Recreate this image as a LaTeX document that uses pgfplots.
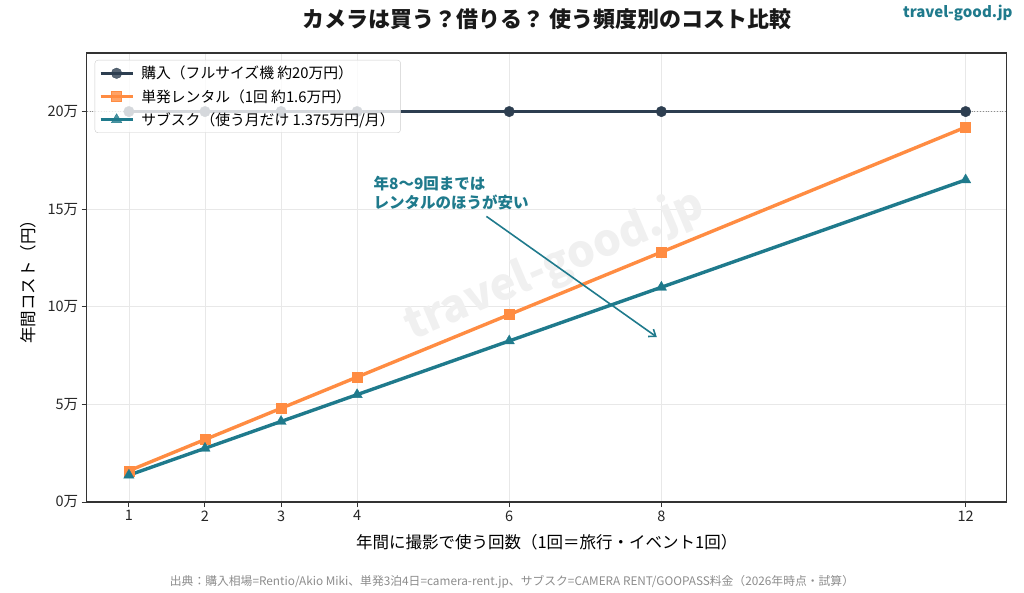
\documentclass[border=0pt]{standalone}
\usepackage{fontspec}
\setmainfont{Noto Sans CJK JP}
\usepackage{pgfplots}
\pgfplotsset{compat=1.18}
\usetikzlibrary{arrows.meta}
\definecolor{navy}{HTML}{2D3E50}
\definecolor{orng}{HTML}{FF8C42}
\definecolor{teal2}{HTML}{1F7A8C}
\definecolor{frame}{HTML}{333333}
\begin{document}
\begin{tikzpicture}
\path[use as bounding box] (0pt,0pt) rectangle (1024pt,592pt);
\begin{axis}[
  at={(86.7pt,90pt)}, anchor=south west,
  scale only axis, width=920pt, height=449pt,
  xmin=0.445, xmax=12.54, ymin=0, ymax=230000,
  xtick={1,2,3,4,6,8,12},
  ytick={0,50000,100000,150000,200000},
  yticklabels={0万,5万,10万,15万,20万},
  /pgf/number format/assume math mode=true,
  scaled y ticks=false,
  tick align=outside, major tick length=5pt,
  xtick pos=bottom, ytick pos=left,
  tick style={color=frame, line width=1pt},
  ticklabel style={font=\fontsize{14.5}{16}\selectfont, color=black!85},
  axis line style={color=frame, line width=1.4pt},
  grid=major, major grid style={color=black!9, line width=0.8pt},
  xlabel={年間に撮影で使う回数（1回＝旅行・イベント1回）},
  ylabel={年間コスト（円）},
  xlabel style={at={(axis description cs:0.5,-0.0891)}, anchor=center, font=\fontsize{16.5}{18}\selectfont},
  ylabel style={at={(axis description cs:-0.0638,0.5)}, anchor=center, font=\fontsize{16.5}{18}\selectfont},
  title={カメラは買う？借りる？ 使う頻度別のコスト比較},
  title style={at={(axis description cs:0.5,1)}, anchor=center, yshift=28pt, font=\fontsize{22}{24}\bfseries, color=black!90},
  legend style={at={(0,1)}, anchor=north west, xshift=8pt, yshift=-7pt,
    draw=black!20, fill=white, fill opacity=0.8, text opacity=1, draw opacity=1,
    rounded corners=3pt, font=\fontsize{14.8}{16}\selectfont, row sep=5pt, column sep=5pt,
    inner sep=4pt, cells={anchor=west}},
  legend image code/.code={\draw[mark repeat=2,mark phase=2] plot coordinates {(0pt,0pt) (16pt,0pt) (32pt,0pt)};},
]
\node[rotate=23, font=\fontsize{44}{46}\bfseries, text=black!6] at (axis cs:6.6,121000) {travel-good.jp};
\addplot[forget plot, color=black!45, dotted, line width=0.8pt] coordinates {(0.445,200000) (12.54,200000)};
\addplot[color=navy, line width=3.4pt, mark=*, mark size=5.3pt, mark options={line width=0.3pt}] coordinates {
(1,200000) (2,200000) (3,200000) (4,200000) (6,200000) (8,200000) (12,200000)};
\addlegendentry{購入（フルサイズ機 約20万円）}
\addplot[color=orng, line width=3.4pt, mark=square*, mark size=5pt, mark options={line width=0.3pt}] coordinates {
(1,16000) (2,32000) (3,48000) (4,64000) (6,96000) (8,128000) (12,192000)};
\addlegendentry{単発レンタル（1回 約1.6万円）}
\addplot[color=teal2, line width=3.4pt, mark=triangle*, mark size=6pt, mark options={line width=0.3pt}] coordinates {
(1,13750) (2,27500) (3,41250) (4,55000) (6,82500) (8,110000) (12,165000)};
\addlegendentry{サブスク（使う月だけ 1.375万円/月）}
\draw[-{Straight Barb[length=6pt,width=9pt]}, color=teal2, line width=1.6pt] (axis cs:5.70,146300) -- (axis cs:7.94,84500);
\node[anchor=west, align=left, text=teal2, font=\fontsize{15.5}{19}\bfseries] at (axis cs:4.17,158200) {年8〜9回までは\\レンタルのほうが安い};
\end{axis}
\node[anchor=east, text=teal2, font=\fontsize{15}{16}\bfseries] at (1016pt,579pt) {travel-good.jp};
\node[text=black!45, font=\fontsize{11.8}{13}\selectfont] at (512pt,10pt) {出典：購入相場=Rentio/Akio Miki、単発3泊4日=camera-rent.jp、サブスク=CAMERA RENT/GOOPASS料金（2026年時点・試算）};
\end{tikzpicture}
\end{document}
